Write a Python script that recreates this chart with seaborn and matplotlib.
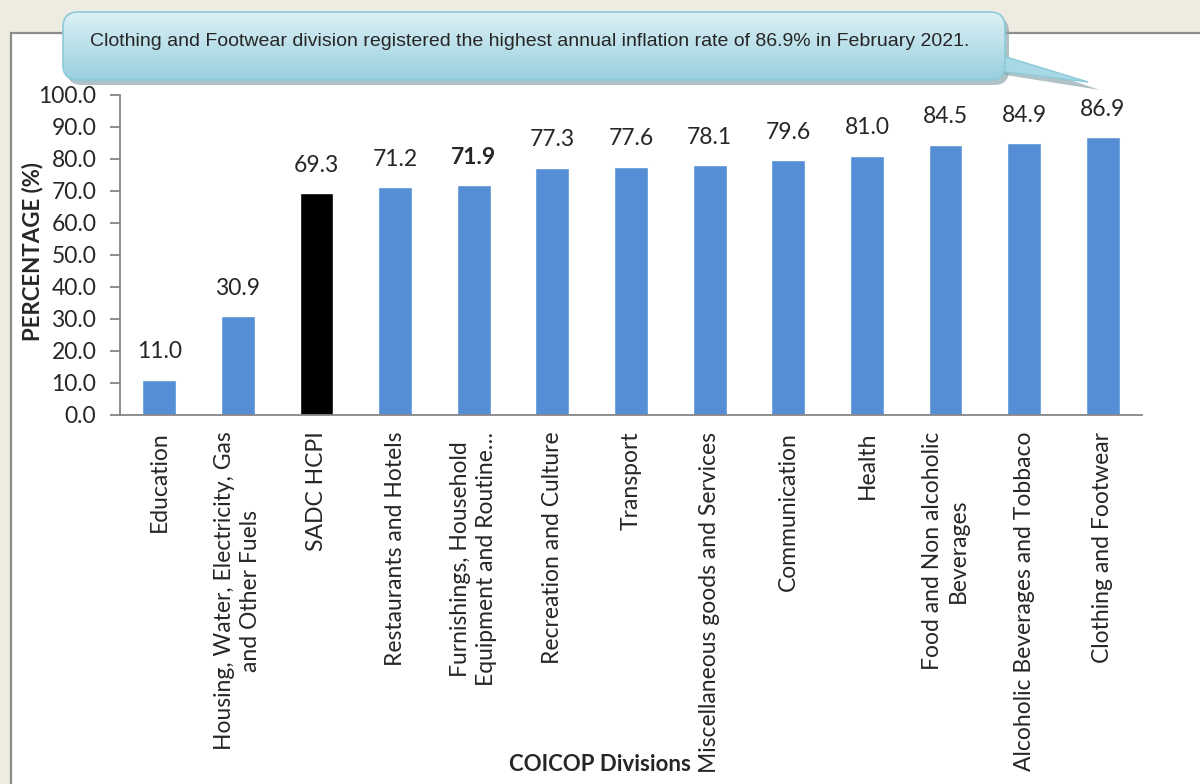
import numpy as np
import pandas as pd
import matplotlib
matplotlib.use('Agg')
import matplotlib.pyplot as plt
import seaborn as sns
from matplotlib.patches import FancyBboxPatch, Polygon, Rectangle
from matplotlib.colors import LinearSegmentedColormap

# chart data
divisions = ['Education',
             'Housing, Water, Electricity, Gas\nand Other Fuels',
             'SADC HCPI',
             'Restaurants and Hotels',
             'Furnishings, Household\nEquipment and Routine\u2026',
             'Recreation and Culture',
             'Transport',
             'Miscellaneous goods and Services',
             'Communication',
             'Health',
             'Food and Non alcoholic\nBeverages',
             'Alcoholic Beverages and Tobbaco',
             'Clothing and Footwear']
rates = [11.0, 30.9, 69.3, 71.2, 71.9, 77.3, 77.6, 78.1, 79.6, 81.0, 84.5, 84.9, 86.9]
y_ticks = [0, 10, 20, 30, 40, 50, 60, 70, 80, 90, 100]
highlight = 'SADC HCPI'
bold_value_idx = 4
callout = 'Clothing and Footwear division registered the highest annual inflation rate of 86.9% in February 2021.'

BLUE = '#558ED5'
GRAY = '#868686'
FS = 16.5

sns.set_theme(style='white')
plt.rcParams['font.family'] = ['Lato', 'DejaVu Sans']

fig = plt.figure(figsize=(12, 7.84), dpi=100)

# page background + white chart panel
bg = fig.add_axes([0, 0, 1, 1], zorder=0)
bg.set_xlim(0, 1200)
bg.set_ylim(784, 0)
bg.axis('off')
bg.add_patch(Rectangle((0, 0), 1200, 784, color='#EEEBE1'))
bg.add_patch(Rectangle((11, 33), 1220, 800, facecolor='white', edgecolor='#8C8C8C', lw=1.6))

# main bars
ax = fig.add_axes([0.1, 0.4707, 0.8517, 0.4082], zorder=2)
ax.patch.set_alpha(0)
df = pd.DataFrame({'division': divisions, 'rate': rates})
colors = ['#000000' if d == highlight else BLUE for d in divisions]
sns.barplot(data=df, x='division', y='rate', hue='division', palette=colors,
            saturation=1, width=0.43, legend=False, ax=ax)

ax.set_xlim(-0.5, len(divisions) - 0.5)
ax.set_ylim(0, 100)
ax.set_yticks(y_ticks)
ax.set_yticklabels([f'{v:.1f}' for v in y_ticks], fontsize=FS)
ax.set_xticks(range(len(divisions)))
ax.set_xticklabels(divisions, rotation=90, ha='center', va='top',
                   multialignment='center', linespacing=1.3, fontsize=FS)
for s in ['top', 'right']:
    ax.spines[s].set_visible(False)
for s in ['left', 'bottom']:
    ax.spines[s].set_color(GRAY)
    ax.spines[s].set_linewidth(1.3)
ax.tick_params(axis='y', length=7, width=1.3, color=GRAY, direction='out', pad=10, left=True)
ax.tick_params(axis='x', length=0, pad=12)
ax.grid(False)

for i, v in enumerate(rates):
    ax.annotate(f'{v:.1f}', (i, v), xytext=(0, 20), textcoords='offset points',
                ha='center', va='center', fontsize=FS,
                fontweight='bold' if i == bold_value_idx else 'normal')

ax.set_ylabel('PERCENTAGE (%)', fontweight='bold', fontsize=16)
ax.yaxis.set_label_coords(-0.075, 0.51)
ax.set_xlabel('COICOP Divisions', fontweight='bold', fontsize=16)
ax.xaxis.set_label_coords(0.47, -1.06)

# callout box
ov = fig.add_axes([0, 0, 1, 1], zorder=5)
ov.patch.set_alpha(0)
ov.axis('off')
ov.add_patch(Polygon([(999, 56), (1100, 90), (999, 74)], closed=True,
                     fc='#8FA8AE', ec='none', alpha=0.7))
ov.add_patch(FancyBboxPatch((67, 17), 942, 68, boxstyle='round,pad=0,rounding_size=15',
                            fc='#8FA8AE', ec='none', alpha=0.7))
ov.add_patch(Polygon([(990, 52), (1088, 82), (990, 70)], closed=True,
                     fc='#A9D8E5', ec='#8CCAD9', lw=1.0, zorder=1))
box = FancyBboxPatch((63, 12), 942, 68, boxstyle='round,pad=0,rounding_size=15',
                     fc='none', ec='#8CCAD9', lw=1.2, zorder=3)
ov.add_patch(box)
grad = np.linspace(0, 1, 100).reshape(-1, 1)
cmap = LinearSegmentedColormap.from_list('callout', ['#DDF0F5', '#98D0DF'])
img = ov.imshow(grad, extent=(63, 1005, 80, 12), cmap=cmap, aspect='auto', zorder=2)
img.set_clip_path(box)
ov.text(90, 41, callout, fontsize=14, va='center', ha='left', zorder=4,
        family=['Liberation Sans', 'DejaVu Sans'])
ov.set_xlim(0, 1200)
ov.set_ylim(784, 0)

fig.savefig('out.png', dpi=100)
